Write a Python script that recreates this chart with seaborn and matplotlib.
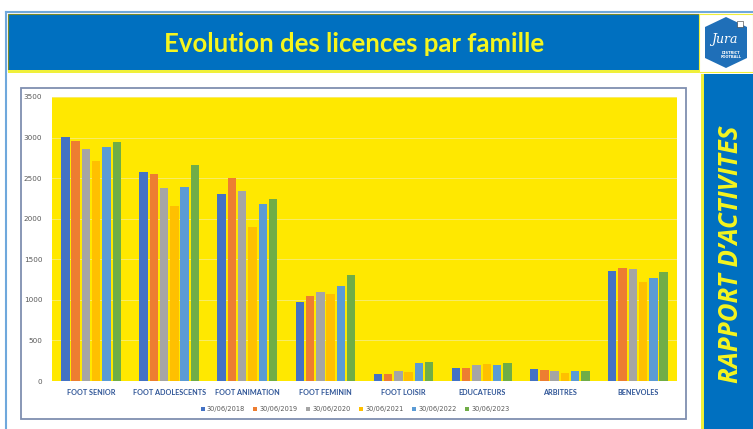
import matplotlib
matplotlib.use("Agg")
import matplotlib.pyplot as plt
from matplotlib.patches import Rectangle, Polygon
from matplotlib.lines import Line2D
import seaborn as sns
import pandas as pd

categories = ["FOOT SENIOR", "FOOT ADOLESCENTS", "FOOT ANIMATION", "FOOT FEMININ",
              "FOOT LOISIR", "EDUCATEURS", "ARBITRES", "BENEVOLES"]
years = ["30/06/2018", "30/06/2019", "30/06/2020", "30/06/2021", "30/06/2022", "30/06/2023"]
v2018 = [3010, 2580, 2310, 975, 90, 165, 148, 1360]
v2019 = [2960, 2550, 2505, 1050, 90, 165, 136, 1395]
v2020 = [2855, 2380, 2345, 1095, 119, 197, 119, 1375]
v2021 = [2710, 2155, 1895, 1068, 111, 205, 103, 1225]
v2022 = [2885, 2390, 2177, 1167, 222, 197, 119, 1265]
v2023 = [2940, 2658, 2243, 1310, 230, 222, 127, 1343]
yticks = [0, 500, 1000, 1500, 2000, 2500, 3000, 3500]
series = [v2018, v2019, v2020, v2021, v2022, v2023]
colors = ["#4472C4", "#ED7D31", "#A5A5A5", "#FFC000", "#5B9BD5", "#70AD47"]

rows = []
for yr, vals in zip(years, series):
    for c, v in zip(categories, vals):
        rows.append({"cat": c, "year": yr, "val": v})
df = pd.DataFrame(rows)

W, H = 753, 429
fig = plt.figure(figsize=(W / 100, H / 100), dpi=100)
fig.patch.set_facecolor("white")

# background decoration axes in pixel coords
bg = fig.add_axes([0, 0, 1, 1])
bg.set_xlim(0, W)
bg.set_ylim(H, 0)
bg.axis("off")

# outer light-blue frame
bg.add_line(Line2D([6, 6], [12, H], color="#6fa8dc", lw=1.5))
bg.add_line(Line2D([6, W], [12, 12], color="#6fa8dc", lw=1.5))
# header
bg.add_patch(Rectangle((8, 14), 691, 57, facecolor="#0070C0", edgecolor="#7a8a2a", lw=0.8))
bg.add_patch(Rectangle((8, 70), 691, 2.5, facecolor="#f0f03a", edgecolor="none"))
bg.text(354, 44, "Evolution des licences par famille", color="#f5f51e",
        fontsize=18.5, fontweight="bold", family="Lato", ha="center", va="center")
# logo
bg.add_patch(Rectangle((699, 14), 54, 58, facecolor="white", edgecolor="#f0f03a", lw=0.8))
hexagon = [(705, 27), (726, 17), (747, 27), (747, 58), (726, 68), (705, 58)]
bg.add_patch(Polygon(hexagon, closed=True, facecolor="#1f6fb8", edgecolor="none"))
bg.text(724, 40, "Jura", color="white", fontsize=9, style="italic", family="DejaVu Serif",
        ha="center", va="center")
bg.text(731, 55, "DISTRICT\nFOOTBALL", color="white", fontsize=2.6, fontweight="bold",
        ha="center", va="center", linespacing=1.0)
bg.add_patch(Rectangle((737, 21), 6, 6, facecolor="white", edgecolor="#333", lw=0.4))
# right strip
bg.add_patch(Rectangle((701, 74), 3, H - 74, facecolor="#f0f03a", edgecolor="none"))
bg.add_patch(Rectangle((704, 74), W - 704, H - 74, facecolor="#0070C0", edgecolor="none"))
bg.text(731, 254, "RAPPORT D\u2019ACTIVITES", color="#f5f51e", fontsize=18.5,
        fontweight="bold", style="italic", family="Open Sans", rotation=90,
        ha="center", va="center")
# chart frame
bg.add_patch(Rectangle((21, 88), 665, 331, facecolor="white", edgecolor="#7f8fb0", lw=1.3))

# plot axes
ax = fig.add_axes([52 / W, 1 - 381 / H, 625 / W, 284 / H])
ax.set_facecolor("#FFE800")
sns.barplot(data=df, x="cat", y="val", hue="year", palette=colors, width=0.79,
            gap=0.18, saturation=1, ax=ax, legend=False, zorder=3)
ax.set_ylim(0, 3500)
ax.set_xlim(-0.5, len(categories) - 0.5)
ax.set_yticks(yticks)
ax.set_yticklabels([str(t) for t in yticks])
for t in yticks[1:]:
    ax.axhline(t, color="#f7ec6a", lw=0.7, zorder=1)
for s in ax.spines.values():
    s.set_visible(False)
ax.tick_params(axis="both", length=0)
ax.tick_params(axis="y", labelsize=5.2, labelcolor="#595959", pad=7)
ax.tick_params(axis="x", labelsize=5.2, labelcolor="#2f5597", pad=6)
for lab in ax.get_xticklabels():
    lab.set_fontweight("bold")
    lab.set_family("Lato")
ax.set_xlabel("")
ax.set_ylabel("")

handles = [Rectangle((0, 0), 1, 1, facecolor=c) for c in colors]
fig.legend(handles, years, loc="center", bbox_to_anchor=(355 / W, 1 - 409 / H),
           ncol=6, frameon=False, fontsize=4.8, handlelength=0.6, handleheight=0.6,
           handletextpad=0.3, columnspacing=1.3, labelcolor="#595959")

fig.savefig("out.png", dpi=100)
